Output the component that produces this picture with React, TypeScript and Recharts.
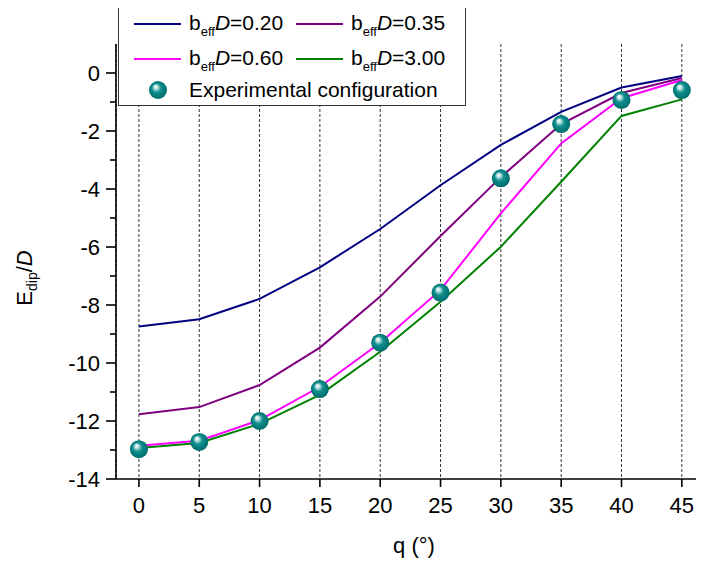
import React from "react";
import {
  ComposedChart,
  Line,
  Scatter,
  XAxis,
  YAxis,
  CartesianGrid,
  Legend,
} from "recharts";

// theta in degrees
const angles = [0, 5, 10, 15, 20, 25, 30, 35, 40, 45];

// E_dip / D for each b_eff*D curve
const b020 = [-8.74, -8.49, -7.79, -6.7, -5.38, -3.87, -2.48, -1.34, -0.5, -0.1];
const b035 = [-11.77, -11.52, -10.76, -9.47, -7.71, -5.62, -3.59, -1.76, -0.69, -0.17];
const b060 = [-12.85, -12.68, -11.97, -10.82, -9.3, -7.48, -4.84, -2.43, -0.87, -0.24];
const b300 = [-12.93, -12.76, -12.1, -11.1, -9.61, -7.89, -5.99, -3.75, -1.48, -0.91];
const experimental = [-12.97, -12.72, -12.0, -10.9, -9.3, -7.57, -3.63, -1.76, -0.93, -0.59];

const xTicks = [0, 5, 10, 15, 20, 25, 30, 35, 40, 45];
const yTicks = [-14, -13, -12, -11, -10, -9, -8, -7, -6, -5, -4, -3, -2, -1, 0];

const series = [
  { key: "b020", label: "0.20", color: "#000080" },
  { key: "b035", label: "0.35", color: "#800080" },
  { key: "b060", label: "0.60", color: "#FF00FF" },
  { key: "b300", label: "3.00", color: "#008000" },
];

const data = angles.map((q, i) => ({
  q,
  b020: b020[i],
  b035: b035[i],
  b060: b060[i],
  b300: b300[i],
  exp: experimental[i],
}));

const FONT = "Arial, 'Liberation Sans', sans-serif";

const SphereStops = () => (
  <>
    <stop offset="0%" stopColor="#ffffff" />
    <stop offset="18%" stopColor="#c8e6e6" />
    <stop offset="45%" stopColor="#12908f" />
    <stop offset="85%" stopColor="#007272" />
    <stop offset="100%" stopColor="#005e5e" />
  </>
);

const Sphere = (props: any) => {
  const { cx, cy, index } = props;
  if (cx == null || cy == null) return null;
  const id = `sphere-${index}`;
  return (
    <g>
      <defs>
        <radialGradient id={id} cx="50%" cy="50%" r="55%" fx="35%" fy="30%">
          <SphereStops />
        </radialGradient>
      </defs>
      <circle cx={cx} cy={cy} r={9} fill={`url(#${id})`} />
    </g>
  );
};

const YTick = (props: any) => {
  const { x, y, payload } = props;
  const major = payload.value % 2 === 0;
  return (
    <g>
      <line x1={x - (major ? 10 : 6)} x2={x} y1={y} y2={y} stroke="#000" strokeWidth={1.6} />
      {major && (
        <text x={x - 16} y={y} dy="0.355em" textAnchor="end" fontSize={22} fontFamily={FONT} fill="#000">
          {payload.value}
        </text>
      )}
    </g>
  );
};

const YLabel = () => (
  <text
    x={32}
    y={278}
    transform="rotate(-90 32 278)"
    textAnchor="middle"
    fontSize={22}
    fontFamily={FONT}
    fill="#000"
  >
    <tspan>E</tspan>
    <tspan dy={5} fontSize={14}>dip</tspan>
    <tspan dy={-5}>/</tspan>
    <tspan fontStyle="italic">D</tspan>
  </text>
);

const Beff = ({ value }: { value: string }) => (
  <span>
    b<span style={{ fontSize: 13, position: "relative", top: 6 }}>eff</span>
    <i>D</i>={value}
  </span>
);

const LegendBox = () => {
  const cols = [15, 177];
  const rows = [20, 55];
  return (
    <div
      style={{
        position: "relative",
        width: 348,
        height: 103,
        boxSizing: "border-box",
        border: "1px solid #333",
        background: "#fff",
        fontFamily: FONT,
        fontSize: 21,
        color: "#000",
      }}
    >
      {series.map((s, i) => {
        const left = cols[i % 2];
        const top = rows[Math.floor(i / 2)];
        return (
          <div key={s.key}>
            <div
              style={{
                position: "absolute",
                left,
                top: top - 1,
                width: 47,
                height: 2,
                background: s.color,
              }}
            />
            <div
              style={{
                position: "absolute",
                left: left + 55,
                top: top - 13,
                lineHeight: "24px",
                whiteSpace: "nowrap",
              }}
            >
              <Beff value={s.label} />
            </div>
          </div>
        );
      })}
      <svg style={{ position: "absolute", left: 29, top: 76 }} width={20} height={20}>
        <defs>
          <radialGradient id="sphere-legend" cx="50%" cy="50%" r="55%" fx="35%" fy="30%">
            <SphereStops />
          </radialGradient>
        </defs>
        <circle cx={10} cy={10} r={9} fill="url(#sphere-legend)" />
      </svg>
      <div
        style={{
          position: "absolute",
          left: 70,
          top: 74,
          lineHeight: "24px",
          whiteSpace: "nowrap",
        }}
      >
        Experimental configuration
      </div>
    </div>
  );
};

const App = () => {
  const axisLine = { stroke: "#000", strokeWidth: 1.6 };
  return (
    <div style={{ marginLeft: -8, marginTop: -8, width: 720, height: 567 }}>
      <ComposedChart
        width={720}
        height={567}
        data={data}
        margin={{ top: 44, right: 8, bottom: 0, left: 0 }}
        style={{ fontFamily: FONT }}
      >
        <CartesianGrid
          horizontal={false}
          stroke="#333"
          strokeDasharray="3 2"
          strokeWidth={1}
        />
        <XAxis
          dataKey="q"
          type="number"
          domain={[-1.9, 47.5]}
          ticks={xTicks}
          interval={0}
          allowDataOverflow
          height={88}
          axisLine={axisLine}
          tickLine={{ stroke: "#000", strokeWidth: 1.6 }}
          tickSize={8}
          tickMargin={10}
          tick={{ fontSize: 22, fill: "#000", fontFamily: FONT }}
          label={{
            value: "q (°)",
            position: "insideBottom",
            offset: 14,
            fontSize: 22,
            fill: "#000",
            fontFamily: FONT,
          }}
        />
        <XAxis
          xAxisId="top"
          dataKey="q"
          type="number"
          orientation="top"
          domain={[-1.9, 47.5]}
          ticks={xTicks}
          interval={0}
          allowDataOverflow
          height={0}
          axisLine={axisLine}
          tickLine={{ stroke: "#000", strokeWidth: 1.6 }}
          tickSize={8}
          tick={false}
        />
        <YAxis
          type="number"
          domain={[-14, 1]}
          ticks={yTicks}
          interval={0}
          allowDataOverflow
          width={116}
          axisLine={axisLine}
          tickLine={false}
          tickSize={0}
          tickMargin={0}
          tick={<YTick />}
          label={<YLabel />}
        />
        {series.map((s) => (
          <Line
            key={s.key}
            type="linear"
            dataKey={s.key}
            stroke={s.color}
            strokeWidth={2}
            dot={false}
            activeDot={false}
            isAnimationActive={false}
          />
        ))}
        <Scatter dataKey="exp" shape={<Sphere />} isAnimationActive={false} />
        <Legend
          verticalAlign="middle"
          align="center"
          layout="horizontal"
          wrapperStyle={{ top: 3, left: 118, width: 348, height: 103 }}
          content={() => <LegendBox />}
        />
      </ComposedChart>
    </div>
  );
};

export default App;
